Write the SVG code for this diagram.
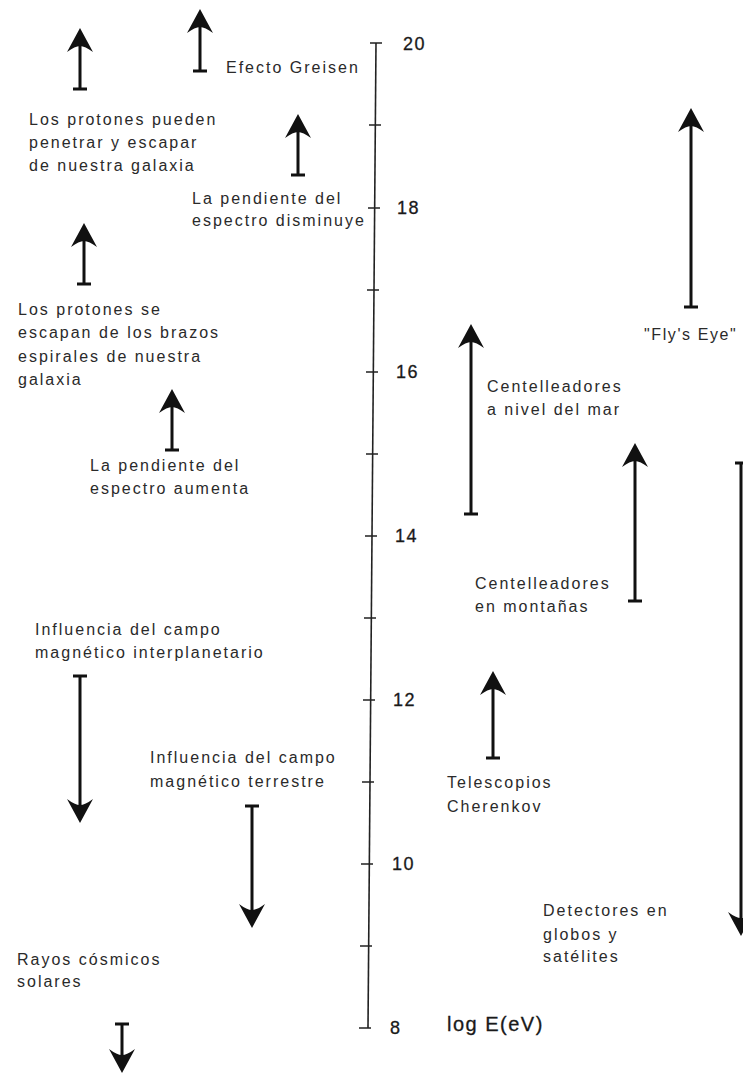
<svg xmlns="http://www.w3.org/2000/svg" xmlns:xlink="http://www.w3.org/1999/xlink" width="743" height="1074" viewBox="0 0 743 1074">
<defs>
<style>
.t{font-family:"Liberation Sans",Arial,sans-serif;font-size:16px;letter-spacing:2px;fill:#2a2a2a}
.n{font-family:"Liberation Sans",Arial,sans-serif;font-size:18px;letter-spacing:1.5px;fill:#1a1a1a;stroke:#1a1a1a;stroke-width:0.3}
.lg{font-family:"Liberation Sans",Arial,sans-serif;font-size:20px;letter-spacing:1.5px;fill:#1a1a1a;stroke:#1a1a1a;stroke-width:0.3}
.sh{stroke:#111;stroke-width:3;fill:none}
.ax{stroke:#222;stroke-width:1.6;fill:none}
.hd{fill:#111}
</style>
<path id="up" d="M0,0 L13,24 Q5,18 0,18 Q-5,18 -13,24 Z"/>
<path id="dn" d="M0,0 L13,-24 Q5,-18 0,-18 Q-5,-18 -13,-24 Z"/>
</defs>
<rect width="743" height="1074" fill="#fff"/>

<g id="axis">
<line class="ax" x1="376" y1="43" x2="368" y2="1028"/>
<path class="ax" d="M370,43 H382 M369,125 H381 M368,208 H380 M367,290 H379 M366,372 H378 M366,454 H378 M365,536 H377 M364,618 H376 M363,700 H375 M362,782 H374 M361,864 H373 M360,946 H372 M359,1028 H371"/>
<text class="n" x="403" y="50">20</text>
<text class="n" x="397" y="214">18</text>
<text class="n" x="396" y="378">16</text>
<text class="n" x="395" y="542">14</text>
<text class="n" x="393" y="706">12</text>
<text class="n" x="392" y="870">10</text>
<text class="n" x="390" y="1034">8</text>
<text class="lg" x="447" y="1031">log E(eV)</text>
</g>

<g id="connectors"></g>

<g id="n-protones-galaxia">
<path class="sh" d="M80,89 V44 M73,89 H87"/>
<use href="#up" class="hd" x="80" y="28"/>
<text class="t" x="29" y="125">Los protones pueden</text>
<text class="t" x="29" y="148">penetrar y escapar</text>
<text class="t" x="29" y="171">de nuestra galaxia</text>
</g>

<g id="n-greisen">
<path class="sh" d="M200,71 V25 M193,71 H207"/>
<use href="#up" class="hd" x="200" y="9"/>
<text class="t" x="226" y="73">Efecto Greisen</text>
</g>

<g id="n-disminuye">
<path class="sh" d="M298,175 V130 M291,175 H305"/>
<use href="#up" class="hd" x="298" y="114"/>
<text class="t" x="192" y="204">La pendiente del</text>
<text class="t" x="192" y="226">espectro disminuye</text>
</g>

<g id="n-brazos">
<path class="sh" d="M84,284 V239 M77,284 H91"/>
<use href="#up" class="hd" x="84" y="223"/>
<text class="t" x="18" y="315">Los protones se</text>
<text class="t" x="18" y="338">escapan de los brazos</text>
<text class="t" x="18" y="362">espirales de nuestra</text>
<text class="t" x="18" y="385">galaxia</text>
</g>

<g id="n-aumenta">
<path class="sh" d="M172,450 V405 M165,450 H179"/>
<use href="#up" class="hd" x="172" y="389"/>
<text class="t" x="90" y="471">La pendiente del</text>
<text class="t" x="90" y="494">espectro aumenta</text>
</g>

<g id="n-flyseye">
<path class="sh" d="M691,307 V124 M684,307 H698"/>
<use href="#up" class="hd" x="691" y="108"/>
<text class="t" x="644" y="340" style="letter-spacing:1.6px">"Fly's Eye"</text>
</g>

<g id="n-mar">
<path class="sh" d="M471,514 V340 M464,514 H478"/>
<use href="#up" class="hd" x="471" y="324"/>
<text class="t" x="487" y="392">Centelleadores</text>
<text class="t" x="487" y="415">a nivel del mar</text>
</g>

<g id="n-montanas">
<path class="sh" d="M635,601 V459 M628,601 H642"/>
<use href="#up" class="hd" x="635" y="443"/>
<text class="t" x="475" y="589">Centelleadores</text>
<text class="t" x="475" y="612">en montañas</text>
</g>

<g id="n-globos">
<path class="sh" d="M741,463 V920 M735,463 H749"/>
<use href="#dn" class="hd" x="741" y="936"/>
<text class="t" x="543" y="916">Detectores en</text>
<text class="t" x="543" y="940">globos y</text>
<text class="t" x="543" y="962">satélites</text>
</g>

<g id="n-cherenkov">
<path class="sh" d="M493,758 V687 M486,758 H500"/>
<use href="#up" class="hd" x="493" y="671"/>
<text class="t" x="447" y="788">Telescopios</text>
<text class="t" x="447" y="812">Cherenkov</text>
</g>

<g id="n-interplanetario">
<text class="t" x="35" y="635">Influencia del campo</text>
<text class="t" x="35" y="658">magnético interplanetario</text>
<path class="sh" d="M80,676 V807 M73,676 H87"/>
<use href="#dn" class="hd" x="80" y="823"/>
</g>

<g id="n-terrestre">
<text class="t" x="150" y="763">Influencia del campo</text>
<text class="t" x="150" y="787">magnético terrestre</text>
<path class="sh" d="M252,806 V912 M245,806 H259"/>
<use href="#dn" class="hd" x="252" y="928"/>
</g>

<g id="n-solares">
<text class="t" x="17" y="965">Rayos cósmicos</text>
<text class="t" x="17" y="987">solares</text>
<path class="sh" d="M122,1024 V1057 M115,1024 H129"/>
<use href="#dn" class="hd" x="122" y="1073"/>
</g>
</svg>
